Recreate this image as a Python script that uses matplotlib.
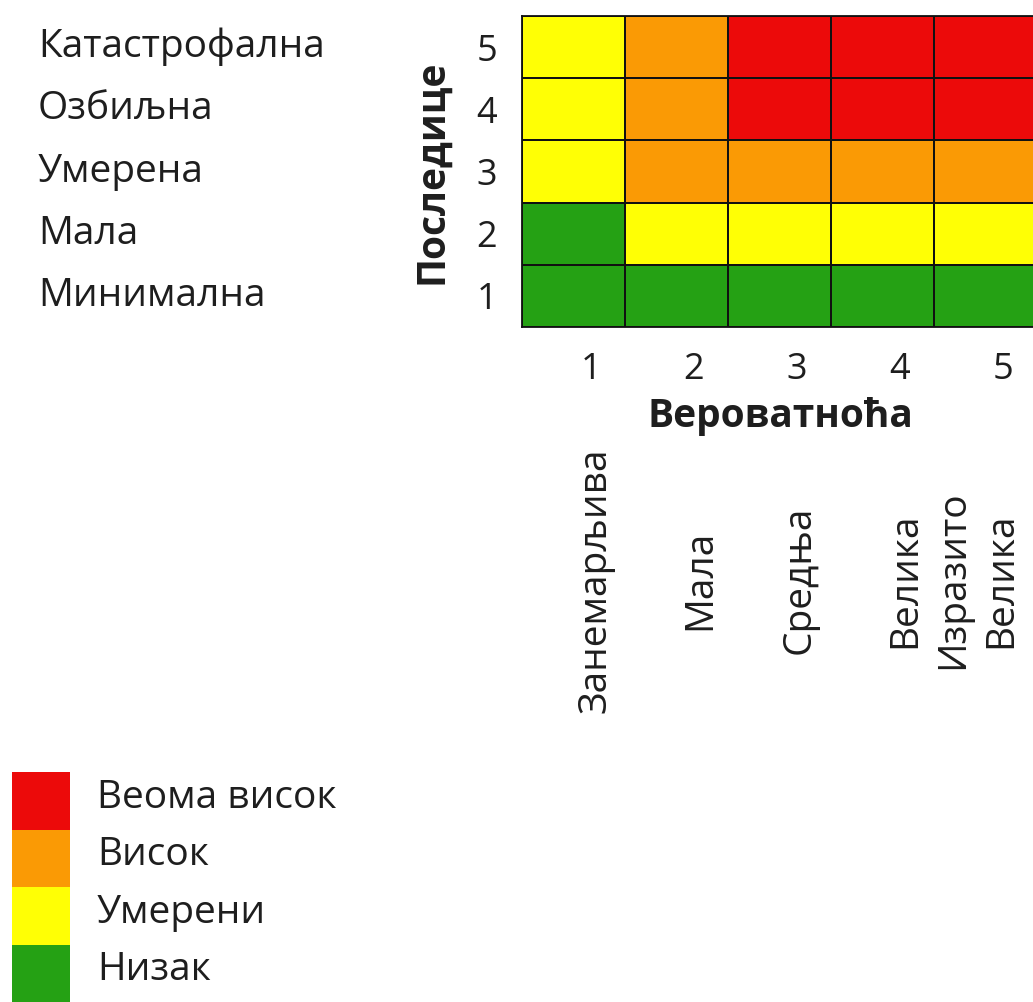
import matplotlib
matplotlib.use("Agg")
import matplotlib.pyplot as plt
import matplotlib.transforms as mtransforms
from matplotlib.colors import ListedColormap, BoundaryNorm
import numpy as np

plt.rcParams['font.family'] = ['Open Sans', 'DejaVu Sans']

# Data
consequence_labels = ["Минимална", "Мала", "Умерена", "Озбиљна", "Катастрофална"]  # 1..5
probability_labels = ["Занемарљива", "Мала", "Средња", "Велика", "Изразито\nВелика"]  # 1..5
tick_numbers = [1, 2, 3, 4, 5]
# risk level: 0=Низак, 1=Умерени, 2=Висок, 3=Веома висок ; rows = consequence 1..5
risk_row1 = [0, 0, 0, 0, 0]
risk_row2 = [0, 1, 1, 1, 1]
risk_row3 = [1, 2, 2, 2, 2]
risk_row4 = [1, 2, 3, 3, 3]
risk_row5 = [1, 2, 3, 3, 3]
level_names = ["Низак", "Умерени", "Висок", "Веома висок"]
level_colors = ["#25A114", "#FFFF05", "#FA9A05", "#EC0A0A"]

risk = np.array([risk_row1, risk_row2, risk_row3, risk_row4, risk_row5])
cmap = ListedColormap(level_colors)
norm = BoundaryNorm(np.arange(-0.5, 4.5, 1), cmap.N)

FS = 28
TXT = "#1e1e1e"

fig = plt.figure(figsize=(10.33, 10.02), dpi=100)

W, H = 1033, 1002
ax = fig.add_axes([522 / W, 1 - 327 / H, 515 / W, 311 / H])
xs = np.arange(0.5, 6.5, 1)
ys = np.arange(0.5, 6.5, 1)
ax.pcolormesh(xs, ys, risk, cmap=cmap, norm=norm, edgecolors="#111111", linewidth=1.3)
ax.set_xlim(0.5, 5.5)
ax.set_ylim(0.5, 5.5)
for s in ax.spines.values():
    s.set_linewidth(1.3)
    s.set_color("#111111")
ax.set_xticks([t + 0.17 for t in tick_numbers])
ax.set_xticklabels([str(t) for t in tick_numbers], fontsize=26)
ax.set_yticks(tick_numbers)
ax.set_yticklabels([str(t) for t in tick_numbers], fontsize=26)
ax.tick_params(length=0, colors=TXT)
ax.tick_params(axis='x', pad=18)
ax.tick_params(axis='y', pad=18)
ax.set_ylabel("Последице", fontsize=FS, fontweight="bold", color=TXT)
ax.yaxis.set_label_coords((432 - 522) / 515, 0.5)
ax.yaxis.label.set_va("center")
ax.set_xlabel("Вероватноћа", fontsize=FS, fontweight="bold", color=TXT)
ax.xaxis.set_label_coords(0.5, (327 - 416) / 311)
ax.xaxis.label.set_va("center")
ax.xaxis.label.set_x((780 - 522) / 515)

# consequence names on left
tr = mtransforms.blended_transform_factory(fig.transFigure, ax.transData)
for i, name in enumerate(consequence_labels):
    ax.text(38 / W, tick_numbers[i], name, transform=tr, fontsize=FS,
            ha="left", va="center", color=TXT)

# probability names rotated
tr2 = mtransforms.blended_transform_factory(ax.transData, fig.transFigure)
xoffs = [0.21, 0.23, 0.20, 0.22, -0.08]
for i, name in enumerate(probability_labels):
    ax.text(tick_numbers[i] + xoffs[i], 1 - 580 / H, name, transform=tr2, fontsize=FS,
            rotation=90, ha="center", va="center", color=TXT,
            multialignment="center", linespacing=1.35)

# legend
lax = fig.add_axes([12 / W, 0, 58 / W, 230 / H])
lax.pcolormesh([0, 1], np.arange(-0.5, 4.5, 1), np.arange(4).reshape(4, 1),
               cmap=cmap, norm=norm)
lax.set_xlim(0, 1)
lax.set_ylim(-0.5, 3.5)
lax.axis("off")
ltr = mtransforms.blended_transform_factory(fig.transFigure, lax.transData)
for i, name in enumerate(level_names):
    lax.text(97 / W, i + 0.05, name, transform=ltr, fontsize=FS,
             ha="left", va="center", color=TXT)

fig.savefig("out.png", dpi=100, facecolor="white")
